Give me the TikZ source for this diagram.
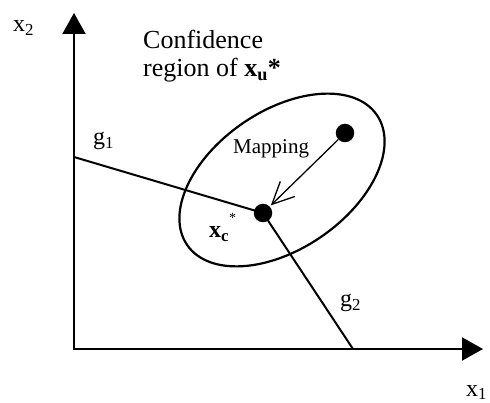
\documentclass[tikz,border=0pt]{standalone}
\usepackage{fontspec}
\setmainfont{Liberation Serif}
\usetikzlibrary{arrows.meta,shapes.geometric}
\begin{document}
\begin{tikzpicture}[x=1pt,y=-1pt,
  lbl/.style={inner sep=0pt, anchor=base west, font=\fontsize{24}{28}\selectfont},
  big/.style={lbl, font=\fontsize{26}{30}\selectfont},
  small/.style={lbl, font=\fontsize{21}{25}\selectfont},
  dot/.style={circle, fill=black, inner sep=0pt, minimum size=18.5pt},
  axis/.style={line width=2pt, arrows={Triangle[length=21pt,width=23pt]-Triangle[length=21pt,width=23pt]}},
  gline/.style={line width=2pt},
  region/.style={draw, ellipse, line width=2.2pt, inner sep=0pt, minimum width=230pt, minimum height=138pt},
  maparrow/.style={line width=1.3pt, -{Straight Barb[length=22pt,width=21pt]}, shorten >=1.5pt}
]
\useasboundingbox (0,0) rectangle (490,403);
\fill[white] (0,0) rectangle (490,403);

\coordinate (O) at (74,349);
\coordinate (ytip) at (74,13);
\coordinate (xtip) at (483,349);
\coordinate (g1s) at (74,157);
\coordinate (g2e) at (353,349);

\node[region, rotate=34.4] (reg) at (282,180) {};
\node[dot] (u) at (345,133) {};
\node[dot] (c) at (263,213) {};

\draw[axis] (ytip) -- (O) -- (xtip);
\draw[gline] (g1s) -- (c.center) -- (g2e);
\draw[maparrow] (u) -- (c);

\node[lbl] (x2) at (13,32) {x\textsubscript{2}};
\node[lbl] (x1) at (466,396) {x\textsubscript{1}};
\node[lbl] (g1) at (93,145) {g\textsubscript{1}};
\node[lbl] (g2) at (340,307) {g\textsubscript{2}};
\node[big] (conf1) at (143,49) {Confidence};
\node[big] (conf2) at (143,77) {region of \textbf{x}\textsubscript{\textbf{u}}\textbf{*}};
\node[small] (map) at (233,154) {Mapping};
\node[lbl] (xc) at (209,238) {\textbf{x}\textsubscript{\textbf{c}}\raisebox{15pt}{\fontsize{14}{14}\selectfont *}};
\end{tikzpicture}
\end{document}
